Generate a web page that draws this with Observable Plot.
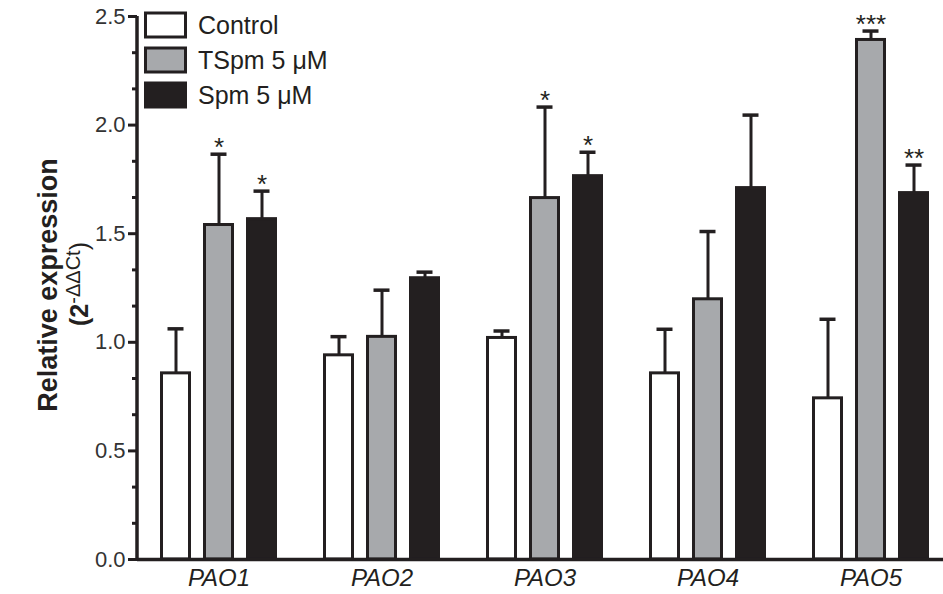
<!DOCTYPE html>
<html>
<head>
<meta charset="utf-8">
<script src="https://cdn.jsdelivr.net/npm/d3@7"></script>
<script src="https://cdn.jsdelivr.net/npm/@observablehq/plot@0.6"></script>
<style>
  html, body { margin: 0; padding: 0; background: #fff; }
  #chart { position: relative; width: 943px; height: 594px; }
  svg { font-family: "Liberation Sans", Arial, sans-serif; }
</style>
</head>
<body>
<div id="chart"></div>
<script>
// ---- data ----
const genes = ["PAO1", "PAO2", "PAO3", "PAO4", "PAO5"];
const series = ["Control", "TSpm 5 μM", "Spm 5 μM"];
const fills = ["#ffffff", "#a7a9ac", "#231f20"];
// mean values per gene (Control, TSpm, Spm)
const controlMean = [0.857, 0.94, 1.02, 0.857, 0.742];
const tspmMean    = [1.54, 1.025, 1.664, 1.198, 2.392];
const spmMean     = [1.567, 1.295, 1.765, 1.71, 1.687];
// upper error bar ends
const controlErr = [1.062, 1.026, 1.052, 1.06, 1.106];
const tspmErr    = [1.866, 1.24, 2.083, 1.51, 2.433];
const spmErr     = [1.696, 1.323, 1.875, 2.046, 1.816];
// significance marks
const controlSig = ["", "", "", "", ""];
const tspmSig    = ["*", "", "*", "", "***"];
const spmSig     = ["*", "", "*", "", "**"];
const yTicks = [0, 0.5, 1.0, 1.5, 2.0, 2.5];

const means = [controlMean, tspmMean, spmMean];
const errs = [controlErr, tspmErr, spmErr];
const sigs = [controlSig, tspmSig, spmSig];
const data = [];
genes.forEach((g, gi) => series.forEach((s, si) => {
  data.push({gene: g, series: s, value: means[si][gi], err: errs[si][gi], sig: sigs[si][gi]});
}));
const minorTicks = d3.range(0, 15).map(i => i / 6).filter(v => !yTicks.some(t => Math.abs(t - v) < 1e-6));

const ink = "#231f20";
const chart = Plot.plot({
  width: 943,
  height: 594,
  marginLeft: 137,
  marginRight: 0,
  marginTop: 16,
  marginBottom: 35,
  style: {fontFamily: "Liberation Sans, Arial, sans-serif", background: "#fff", color: ink},
  fx: {domain: genes, range: [137, 952], padding: 0, label: null},
  x: {domain: series, paddingInner: 0.27, paddingOuter: 0.49, axis: null},
  y: {domain: [0, 2.5], axis: null},
  color: {domain: series, range: fills},
  marks: [
    Plot.ruleX(data, {fx: "gene", x: "series", y1: "value", y2: "err", stroke: ink, strokeWidth: 3}),
    Plot.tickY(data, {fx: "gene", x: "series", y: "err", stroke: ink, strokeWidth: 3.5, insetLeft: 7.5, insetRight: 7.5}),
    Plot.barY(data, {fx: "gene", x: "series", y: "value", fill: "series", stroke: ink, strokeWidth: 3, insetLeft: 1.5, insetRight: 1.5}),
    Plot.text(data, {fx: "gene", x: "series", y: "err", text: "sig", lineAnchor: "bottom", dy: 2, fontSize: 26, fill: ink}),
    Plot.ruleY([0], {stroke: ink, strokeWidth: 3.5}),
    Plot.axisY({ticks: yTicks, tickFormat: ".1f", tickSize: 9, tickPadding: 3, fontSize: 22, strokeWidth: 3, label: null, fill: "#333"}),
    Plot.axisY({ticks: minorTicks, tickFormat: null, text: null, tickSize: 5, strokeWidth: 3, label: null}),
    Plot.axisFx({anchor: "bottom", tickSize: 0, tickPadding: 9, fontSize: 24, fontStyle: "italic", label: null, fill: ink})
  ]
});
document.getElementById("chart").appendChild(chart);

const svg = d3.select(chart.tagName.toLowerCase() === "svg" ? chart : chart.querySelector("svg"));

// y axis line drawn from the y scale's range
const ys = chart.scale("y");
svg.append("line")
  .attr("x1", 137).attr("x2", 137)
  .attr("y1", ys.apply(0) + 1.75).attr("y2", ys.apply(2.5))
  .attr("stroke", ink).attr("stroke-width", 3.5);

// y axis title
svg.append("text")
  .attr("transform", "translate(57,285) rotate(-90)")
  .attr("text-anchor", "middle")
  .style("font-size", "27px").attr("font-weight", "bold").attr("fill", ink)
  .text("Relative expression");
const t2 = svg.append("text")
  .attr("transform", "translate(88,284) rotate(-90)")
  .attr("text-anchor", "middle")
  .style("font-size", "25px").attr("fill", ink);
t2.append("tspan").attr("font-weight", "bold").text("(2");
t2.append("tspan").style("font-size", "20px").attr("dy", -8).text("-ΔΔCt");
t2.append("tspan").attr("dy", 8).text(")");

// legend
const lg = svg.append("g").attr("text-anchor", "start");
series.forEach((s, i) => {
  const y0 = 13 + i * 35;
  lg.append("rect").attr("x", 145.5).attr("y", y0).attr("width", 40).attr("height", 24)
    .attr("fill", fills[i]).attr("stroke", ink).attr("stroke-width", 3);
  lg.append("text").attr("x", 198).attr("y", y0 + 21).style("font-size", "25px").attr("fill", ink).text(s);
});
</script>
</body>
</html>
